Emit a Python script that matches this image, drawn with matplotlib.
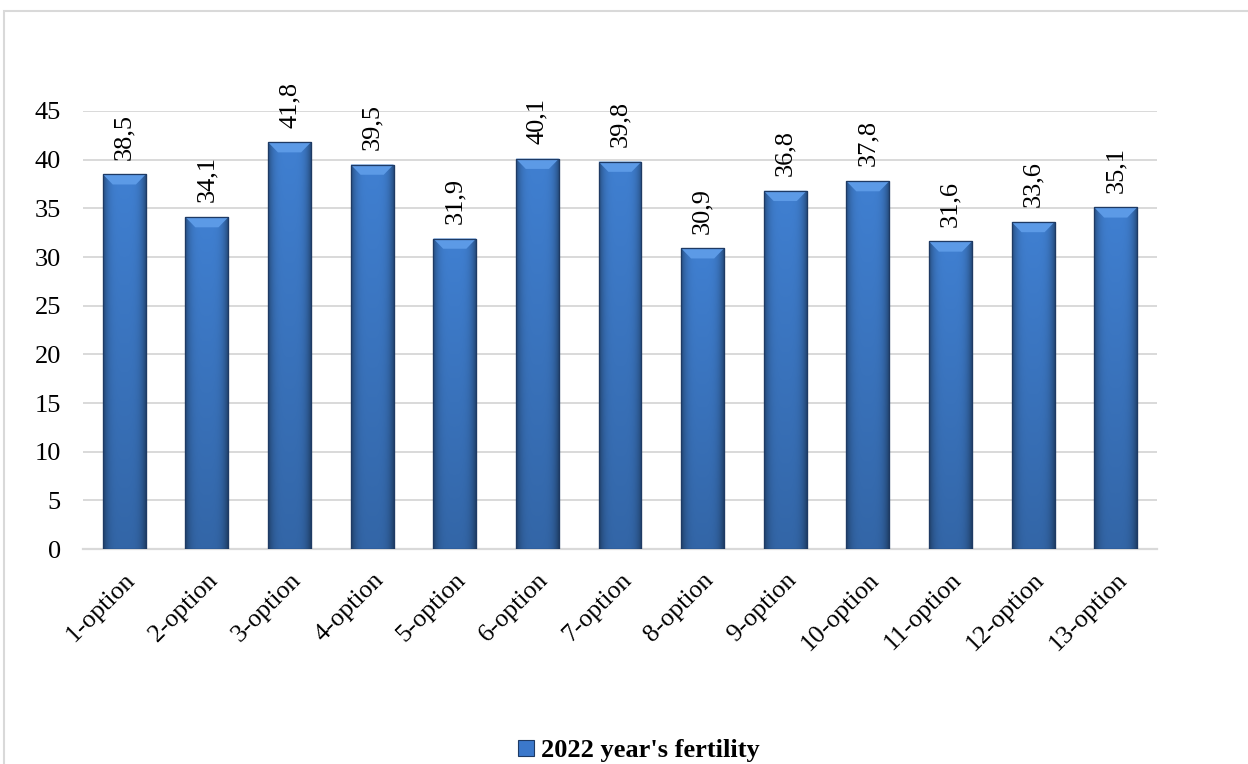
import numpy as np
import matplotlib
matplotlib.use("Agg")
import matplotlib.pyplot as plt
from matplotlib.patches import Rectangle, Polygon
from matplotlib.legend_handler import HandlerPatch
import matplotlib.transforms as mtransforms

categories = ["1-option", "2-option", "3-option", "4-option", "5-option",
              "6-option", "7-option", "8-option", "9-option", "10-option",
              "11-option", "12-option", "13-option"]
values = [38.5, 34.1, 41.8, 39.5, 31.9, 40.1, 39.8, 30.9, 36.8, 37.8, 31.6, 33.6, 35.1]
yticks = [0, 5, 10, 15, 20, 25, 30, 35, 40, 45]
series_name = "2022 year's fertility"

plt.rcParams["font.family"] = ["Liberation Serif", "DejaVu Serif"]

W, H = 1248, 764
fig = plt.figure(figsize=(W / 100, H / 100), dpi=100)

# outer chart frame (light grey, running off the right and bottom edges)
frame = Rectangle((4 / W, -0.05), 1.2, 1 - 11 / H + 0.05, transform=fig.transFigure,
                  facecolor="none", edgecolor="#D9D9D9", lw=1.5, clip_on=False)
fig.patches.append(frame)

ax = fig.add_axes([83 / W, 1 - 549 / H, (1157 - 83) / W, (549 - 111) / H])

x = np.arange(len(categories))
bar_w = 0.52
base = np.array([0.25, 0.50, 0.82])

bars = ax.bar(x, values, width=bar_w, color="#3B78CB", edgecolor="#1E3A64",
              linewidth=0.8, zorder=3)

# shaded fill for every bar: darker sides, slightly darker toward the base
nx, ny = 64, 64
u = np.linspace(0, 1, nx)
horiz = 1 - 0.38 * np.abs(2 * u - 1) ** 4
vert = np.linspace(1.0, 0.80, ny)[:, None]
shade = np.clip(base[None, None, :] * horiz[None, :, None] * vert[:, :, None], 0, 1)

dx = 0.12
dy = 1.05
for rect, v in zip(bars, values):
    x0 = rect.get_x()
    x1 = x0 + rect.get_width()
    im = ax.imshow(shade, extent=(x0, x1, 0, v), aspect="auto", zorder=3.1,
                   interpolation="bilinear")
    im.set_clip_path(rect)
    # bevelled top
    top = Polygon([(x0, v), (x1, v), (x1 - dx, v - dy), (x0 + dx, v - dy)],
                  closed=True, facecolor="#5C9AE6", edgecolor="none", zorder=3.2)
    ax.add_patch(top)
    edge = Rectangle((x0, 0), x1 - x0, v, facecolor="none", edgecolor="#1E3A64",
                     lw=0.9, zorder=3.3)
    ax.add_patch(edge)
    ax.text(x0 + (x1 - x0) / 2, v + 1.5, f"{v:.1f}".replace(".", ","),
            rotation=90, ha="center", va="bottom", fontsize=19, color="black",
            zorder=4)

ax.set_xlim(-0.5, len(categories) - 0.5)
ax.set_ylim(0, 45)
ax.set_yticks(yticks)
ax.set_yticklabels([str(t) for t in yticks], fontsize=19)
ax.set_xticks(x)
ax.set_xticklabels(categories, fontsize=18.5, rotation=45, ha="right",
                   rotation_mode="anchor")
shift = mtransforms.ScaledTranslation(4 / 100, 0, fig.dpi_scale_trans)
for lbl in ax.get_xticklabels():
    lbl.set_transform(lbl.get_transform() + shift)
ax.tick_params(axis="both", length=0)
ax.tick_params(axis="y", pad=16)
ax.tick_params(axis="x", pad=14)

ax.grid(axis="y", color="#D9D9D9", lw=1.4, zorder=0)
ax.set_axisbelow(True)
for s in ["top", "right", "left"]:
    ax.spines[s].set_visible(False)
ax.spines["bottom"].set_color("#D9D9D9")
ax.spines["bottom"].set_linewidth(1.6)


class GradientSquare(HandlerPatch):
    def create_artists(self, legend, orig_handle, xdescent, ydescent, width,
                       height, fontsize, trans):
        s = min(width, height)
        p = Rectangle((-xdescent + width - s, -ydescent + (height - s) / 2), s, s,
                      facecolor="#3B78CB", edgecolor="#1E3A64", lw=0.8,
                      transform=trans)
        return [p]


handle = Rectangle((0, 0), 1, 1, facecolor="#3B78CB")
leg = fig.legend([handle], [series_name], loc="center",
                 bbox_to_anchor=(0.512, 13 / H), frameon=False,
                 prop={"weight": "bold", "size": 19}, handlelength=0.6,
                 handleheight=0.6, handletextpad=0.3, borderpad=0,
                 handler_map={Rectangle: GradientSquare()})

fig.savefig("out.png", dpi=100)
